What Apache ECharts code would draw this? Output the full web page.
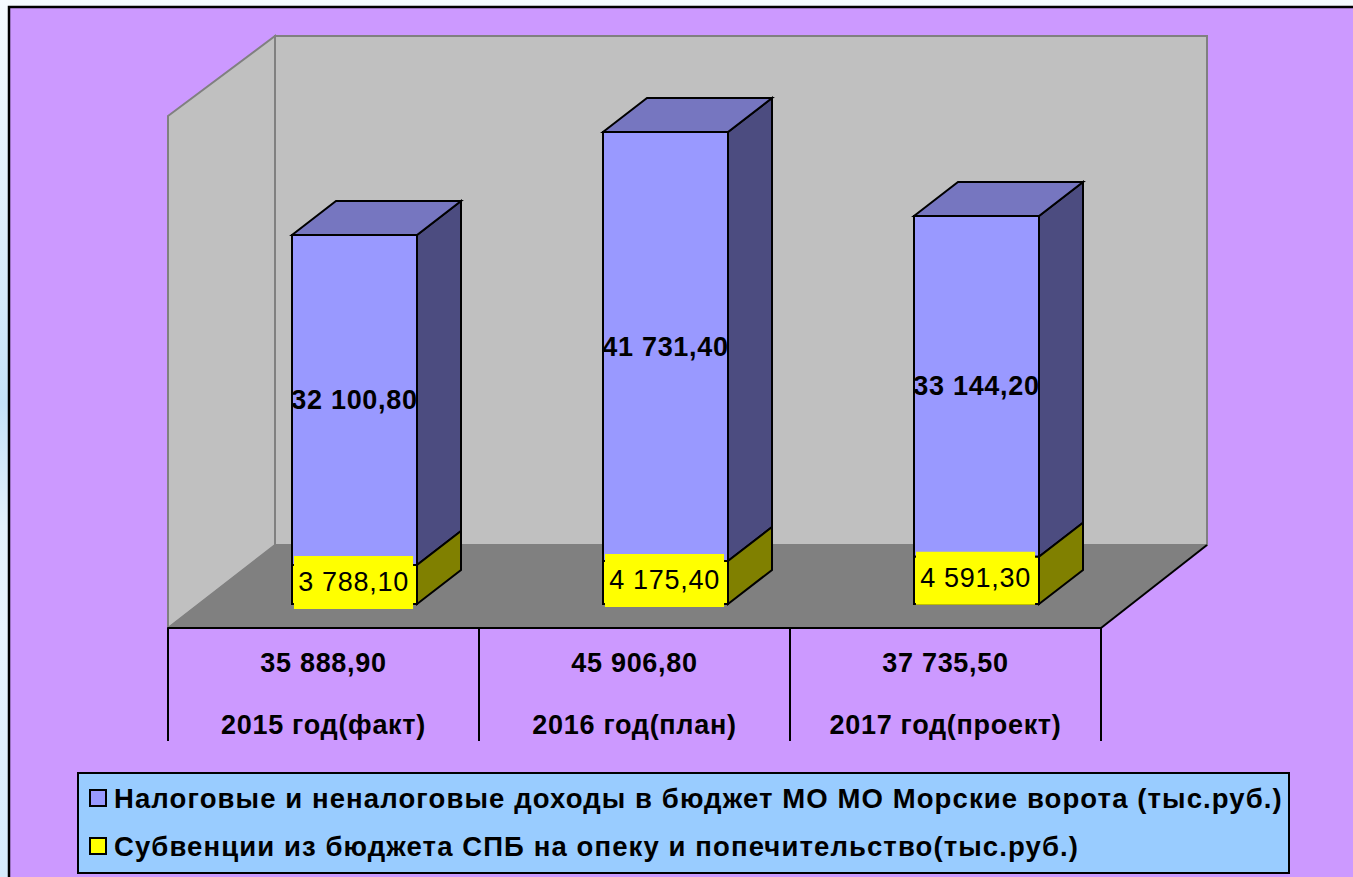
<!DOCTYPE html>
<html><head><meta charset="utf-8">
<style>html,body{margin:0;padding:0;background:#f2f9ff}#c{width:1353px;height:877px}
#c svg text{letter-spacing:.7px}
#c svg text[style*="27.5px"]{letter-spacing:1.1px}
</style>
<script src="https://cdn.jsdelivr.net/npm/echarts@6/dist/echarts.min.js"></script>
</head><body><div id="c"></div>
<script>
const categories = ['2015 год(факт)', '2016 год(план)', '2017 год(проект)'];
const totalLabels = ['35 888,90', '45 906,80', '37 735,50'];
const subsidies = [3788.1, 4175.4, 4591.3];
const ownRevenue = [32100.8, 41731.4, 33144.2];
const ownName = 'Налоговые и неналоговые доходы в бюджет МО МО Морские ворота (тыс.руб.)';
const subName = 'Субвенции из бюджета СПБ на опеку и попечительство(тыс.руб.)';
const fmt = v => { const s = v.toFixed(2).split('.'); return s[0].replace(/\B(?=(\d{3})+$)/g, ' ') + ',' + s[1]; };

const DX = 44, DY = -34, OFFSET = 31, BAR_W = 125;
function poly(points, fill) {
  return { type: 'polygon', shape: { points }, style: { fill, stroke: '#000', lineWidth: 2, lineJoin: 'miter' } };
}
function cuboid(front, side, top, labelOpt) {
  return function (params, api) {
    const i = api.value(0);
    const c = api.coord([i, 0]);
    const y0 = api.coord([i, api.value(1)])[1];
    const y1 = api.coord([i, api.value(2)])[1];
    const l = Math.round(c[0] + OFFSET - BAR_W / 2), r = l + BAR_W;
    const ch = [
      poly([[r, y0], [r + DX, y0 + DY], [r + DX, y1 + DY], [r, y1]], side),
      poly([[l, y0], [r, y0], [r, y1], [l, y1]], front),
      { type: 'text', z2: 10, x: (l + r) / 2 + labelOpt.dx, y: (y0 + y1) / 2 + labelOpt.dy,
        style: Object.assign({ text: fmt(api.value(2) - api.value(1)), align: 'center', verticalAlign: 'middle',
          fill: '#000', fontFamily: 'Liberation Sans' }, labelOpt.style) }
    ];
    if (top) ch.splice(1, 0, poly([[l, y1], [l + DX, y1 + DY], [r + DX, y1 + DY], [r, y1]], top));
    return { type: 'group', children: ch };
  };
}
const ownData = categories.map((_, i) => [i, subsidies[i], subsidies[i] + ownRevenue[i]]);
const subData = categories.map((_, i) => [i, 0, subsidies[i]]);

const chart = echarts.init(document.getElementById('c'), null, { renderer: 'svg' });
chart.setOption({
  animation: false,
  backgroundColor: { type: 'linear', x: 0, y: 0, x2: 0, y2: 1, colorStops: [
    { offset: 0, color: '#f5fbff' }, { offset: 0.34, color: '#d5eafa' }, { offset: 0.46, color: '#c4e2f8' },
    { offset: 0.6, color: '#e3f1fc' }, { offset: 0.72, color: '#e8f4fe' }, { offset: 1, color: '#d5ebfc' }] },
  graphic: { elements: [
    { type: 'rect', z: -10, silent: true, shape: { x: 9, y: 7, width: 1400, height: 900 },
      style: { fill: '#CC99FF', stroke: '#000', lineWidth: 2.5 } },
    { type: 'polygon', z: -9, silent: true, shape: { points: [[275, 36], [1207, 36], [1207, 545], [275, 545]] },
      style: { fill: '#C0C0C0', stroke: '#808080', lineWidth: 2 } },
    { type: 'polygon', z: -9, silent: true, shape: { points: [[168, 116], [275, 36], [275, 545], [168, 628]] },
      style: { fill: '#C0C0C0', stroke: '#808080', lineWidth: 2 } },
    { type: 'polygon', z: -8, silent: true, shape: { points: [[168, 628], [275, 545], [1207, 545], [1101, 628]] },
      style: { fill: '#808080', stroke: '#808080', lineWidth: 1 } },
    { type: 'line', z: -7, silent: true, shape: { x1: 1101, y1: 628, x2: 1207, y2: 545 }, style: { stroke: '#000', lineWidth: 2 } },
    { type: 'rect', z: -6, silent: true, shape: { x: 78, y: 773, width: 1211, height: 100 },
      style: { fill: '#99CCFF', stroke: '#000', lineWidth: 2 } }
  ] },
  grid: { left: 168, right: 252, top: 92, bottom: 249 },
  legend: {
    orient: 'vertical', left: 89, top: 784, padding: 0, itemGap: 20, itemWidth: 16, itemHeight: 16, selectedMode: false,
    textStyle: { fontFamily: 'Liberation Sans', fontWeight: 'bold', fontSize: 27.5, color: '#000', padding: [0, 0, 0, 3] },
    data: [
      { name: ownName, icon: 'rect', itemStyle: { color: '#9999FF', borderColor: '#000', borderWidth: 2 } },
      { name: subName, icon: 'rect', itemStyle: { color: '#FFFF00', borderColor: '#000', borderWidth: 2 } }
    ]
  },
  xAxis: {
    type: 'category', data: categories, boundaryGap: true,
    axisLine: { show: true, onZero: false, lineStyle: { color: '#000', width: 2 } },
    axisTick: { show: true, length: 113, alignWithLabel: false, lineStyle: { color: '#000', width: 2 } },
    axisLabel: {
      interval: 0, margin: 4, color: '#000', fontFamily: 'Liberation Sans', fontWeight: 'bold', fontSize: 27, lineHeight: 62,
      formatter: (v, i) => totalLabels[i] + '\n' + v
    }
  },
  yAxis: { type: 'value', min: -2340, max: 49800, show: false, splitLine: { show: false } },
  series: [
    { name: ownName, type: 'custom', coordinateSystem: 'cartesian2d', data: ownData, encode: { x: 0, y: 2 },
      itemStyle: { color: '#9999FF' },
      renderItem: cuboid('#9999FF', '#4C4C80', '#7676C0', { dx: 0, dy: 0, style: { fontSize: 27, fontWeight: 'bold' } }) },
    { name: subName, type: 'custom', coordinateSystem: 'cartesian2d', data: subData, encode: { x: 0, y: 2 },
      itemStyle: { color: '#FFFF00' },
      renderItem: cuboid('#FFFF00', '#808000', null, { dx: -1, dy: -2, style: { fontSize: 27, backgroundColor: '#FFFF00', padding: [13, 7, 13, 7] } }) }
  ]
});
</script></body></html>
